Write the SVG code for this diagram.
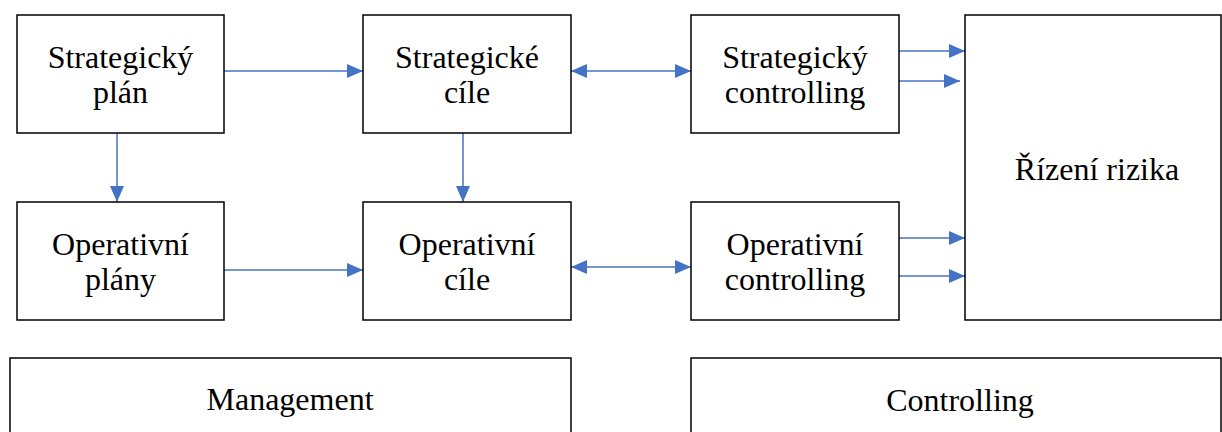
<svg xmlns="http://www.w3.org/2000/svg" width="1222" height="432" viewBox="0 0 1222 432">
<style>
.box{fill:#fff;stroke:#000;stroke-width:1.5}
.t{font-family:'Liberation Serif',Tinos,'Times New Roman','Noto Serif','DejaVu Serif',serif;font-size:32px;fill:#000;text-anchor:middle}
.c{stroke:#4472C4;stroke-width:1.5;fill:none}
</style>
<defs>
<marker id="ah" markerUnits="userSpaceOnUse" markerWidth="16" markerHeight="14" refX="16" refY="7" orient="auto-start-reverse">
<path d="M0,0 L16,7 L0,14 Z" fill="#4472C4"/>
</marker>
</defs>
<rect width="1222" height="432" fill="#fff"/>
<g id="connectors">
<line class="c" x1="224" y1="71" x2="363" y2="71" marker-end="url(#ah)"/>
<line class="c" x1="117" y1="133" x2="117" y2="202" marker-end="url(#ah)"/>
<line class="c" x1="463" y1="133" x2="463" y2="202" marker-end="url(#ah)"/>
<line class="c" x1="571" y1="71" x2="691" y2="71" marker-start="url(#ah)" marker-end="url(#ah)"/>
<line class="c" x1="224" y1="270" x2="363" y2="270" marker-end="url(#ah)"/>
<line class="c" x1="571" y1="267" x2="691" y2="267" marker-start="url(#ah)" marker-end="url(#ah)"/>
<line class="c" x1="899" y1="51" x2="965" y2="51" marker-end="url(#ah)"/>
<line class="c" x1="894" y1="81" x2="960" y2="81" marker-end="url(#ah)"/>
<line class="c" x1="899" y1="238" x2="965" y2="238" marker-end="url(#ah)"/>
<line class="c" x1="899" y1="276" x2="965" y2="276" marker-end="url(#ah)"/>
</g>
<g id="strategicky-plan">
<rect class="box" x="17" y="15" width="207" height="118"/>
<text class="t" x="120.5" y="68">Strategický</text>
<text class="t" x="120.5" y="103">plán</text>
</g>
<g id="strategicke-cile">
<rect class="box" x="363" y="15" width="208" height="118"/>
<text class="t" x="467" y="68">Strategické</text>
<text class="t" x="467" y="103">cíle</text>
</g>
<g id="strategicky-controlling">
<rect class="box" x="691" y="15" width="208" height="118"/>
<text class="t" x="795" y="68">Strategický</text>
<text class="t" x="795" y="103">controlling</text>
</g>
<g id="operativni-plany">
<rect class="box" x="17" y="202" width="207" height="118"/>
<text class="t" x="120.5" y="255">Operativní</text>
<text class="t" x="120.5" y="290">plány</text>
</g>
<g id="operativni-cile">
<rect class="box" x="363" y="202" width="208" height="118"/>
<text class="t" x="467" y="255">Operativní</text>
<text class="t" x="467" y="290">cíle</text>
</g>
<g id="operativni-controlling">
<rect class="box" x="691" y="202" width="208" height="118"/>
<text class="t" x="795" y="255">Operativní</text>
<text class="t" x="795" y="290">controlling</text>
</g>
<g id="rizeni-rizika">
<rect class="box" x="965" y="15" width="256" height="305"/>
<text class="t" x="1097" y="180">Řízení rizika</text>
</g>
<g id="management">
<rect class="box" x="10" y="358" width="561" height="80"/>
<text class="t" x="290" y="410">Management</text>
</g>
<g id="controlling">
<rect class="box" x="691" y="358" width="530" height="80"/>
<text class="t" x="960" y="411">Controlling</text>
</g>
</svg>
